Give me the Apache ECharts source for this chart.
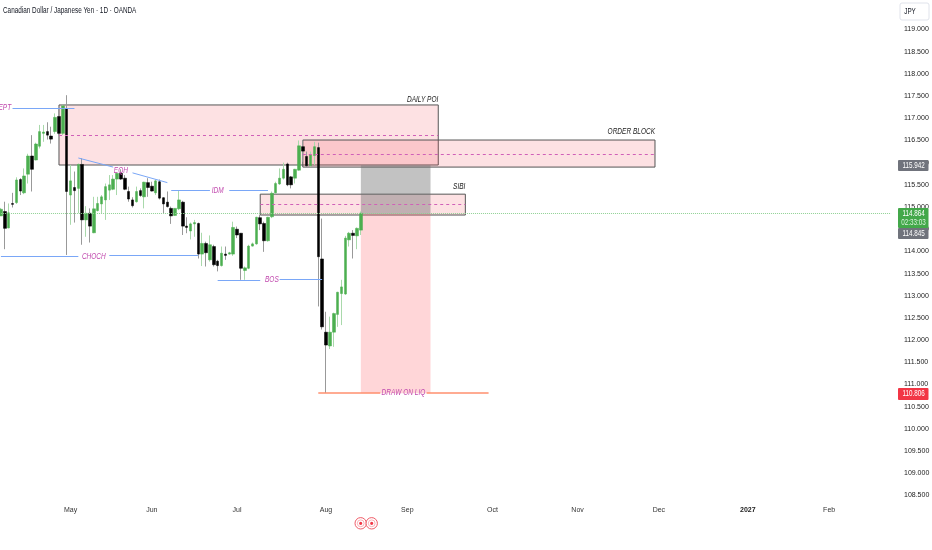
<!DOCTYPE html>
<html>
<head>
<meta charset="utf-8">
<style>html,body{margin:0;padding:0;background:#fff}#c{width:932px;height:550px}</style>
<script src="https://cdn.jsdelivr.net/npm/echarts@6/dist/echarts.min.js"></script>
</head>
<body>
<div id="c"></div>
<script>
const FONT = '"Liberation Sans",sans-serif';
const chartTitle = 'Canadian Dollar / Japanese Yen · 1D · OANDA';
const slotCount = 231;
const monthIndex = [18,39,61,84,105,127,149,170,193,214];
const monthNames = ['May','Jun','Jul','Aug','Sep','Oct','Nov','Dec','2027','Feb'];
const priceTicks = [108.5,109,109.5,110,110.5,111,111.5,112,112.5,113,113.5,114,114.5,115,115.5,116,116.5,117,117.5,118,118.5,119];

const opens = [114.80,114.90,114.53,115.08,115.10,115.62,115.32,115.74,116.15,116.06,116.37,116.66,116.70,116.60,116.70,117.04,116.66,117.22,115.27,115.44,115.42,115.96,114.71,114.86,114.42,114.92,115.07,115.16,115.38,115.40,115.63,115.76,115.65,115.35,115.16,115.12,115.37,115.23,115.55,115.47,115.32,115.57,115.21,115.11,114.97,114.81,114.96,115.11,114.57,114.46,114.62,114.63,113.94,114.18,113.81,114.11,113.78,113.68,113.94,113.94,113.94,114.50,114.41,113.57,113.62,114.12,114.17,114.76,114.63,114.24,114.78,115.32,115.52,115.65,115.97,115.68,115.65,115.83,116.36,116.14,115.93,116.16,116.34,113.83,112.18,111.87,112.18,112.58,113.05,113.04,114.26,114.41,114.35,114.48];
const closes = [114.95,114.52,114.87,115.06,115.61,115.36,115.70,116.15,115.85,116.42,116.70,116.69,116.62,116.53,117.02,116.66,117.28,115.35,115.59,115.37,115.96,114.71,114.86,114.57,114.96,115.08,115.23,115.46,115.50,115.63,115.76,115.63,115.40,115.18,115.03,115.35,115.26,115.56,115.44,115.36,115.59,115.20,115.07,115.01,114.80,114.97,115.16,114.57,114.54,114.62,114.65,113.94,114.18,113.97,114.15,113.70,113.68,113.96,113.91,113.97,114.54,114.37,113.62,113.63,114.12,114.17,114.77,114.62,114.24,114.77,115.31,115.53,115.65,115.85,115.50,115.50,115.85,116.38,116.26,115.93,116.17,116.36,113.88,112.30,111.89,112.18,112.60,113.08,113.20,114.30,114.41,114.36,114.52,114.86];
const lows = [114.80,114.05,114.52,114.99,115.07,115.27,115.29,115.53,115.35,116.05,116.32,116.47,116.52,116.43,116.65,116.62,116.62,113.92,114.60,114.65,114.86,114.15,114.33,114.20,114.41,114.90,114.86,114.71,115.16,115.38,115.27,115.61,115.38,115.12,114.99,115.10,115.23,114.97,115.23,115.35,115.27,115.17,114.86,114.99,114.62,114.80,114.93,114.37,114.41,114.27,114.33,113.84,113.67,113.66,113.77,113.66,113.55,113.66,113.81,113.93,113.90,114.30,113.36,113.36,113.60,114.11,114.15,114.48,113.99,114.22,114.75,115.29,115.50,115.62,115.47,115.42,115.53,115.82,116.02,115.90,115.91,115.95,112.76,112.24,110.81,111.80,111.85,112.30,112.34,113.02,114.11,113.84,114.05,114.37];
const highs = [114.98,115.12,115.08,115.32,115.67,115.65,115.87,116.20,116.62,116.45,116.85,116.85,116.91,116.81,117.11,117.22,117.30,117.52,115.95,115.80,115.98,116.10,115.02,114.97,115.23,115.23,115.27,115.53,115.72,115.72,115.77,115.85,115.72,115.46,115.22,115.46,115.42,115.57,115.65,115.57,115.62,115.62,115.22,115.35,115.01,114.97,115.37,115.14,114.77,114.65,114.71,114.65,114.42,114.22,114.36,114.15,113.81,114.11,114.11,113.99,114.67,114.56,114.41,113.66,114.15,114.20,114.78,114.82,114.67,114.78,115.35,115.57,115.87,116.00,116.00,115.70,115.86,116.50,116.51,116.25,116.25,116.47,116.45,114.74,112.64,112.53,112.62,113.09,113.36,114.35,114.44,114.48,114.54,114.90];

const zoneStart = [15,78,67,93,93];
const zoneEnd   = [113,169,120,111,111];
const zoneTop   = [117.30,116.51,115.29,115.942,114.845];
const zoneBot   = [115.947,115.90,114.82,114.845,110.806];
const zoneFill  = ['rgba(242,54,69,.15)','rgba(242,54,69,.15)','rgba(242,54,69,.15)','rgba(110,110,110,.42)','rgba(255,82,92,.24)'];
const zoneEdge  = ['#555','#555','#555','transparent','transparent'];

const lineX1 = [15,78,67, 3,20,34,44,59,56,72,0,28,82,110];
const lineP1 = [116.61,116.2,115.06, 117.224,116.105,115.77,115.377,115.377,113.34,113.37,113.88,113.92,110.815,110.815];
const lineX2 = [113,169,120, 19,29,43,54,69,67,83,20,51,98,126];
const lineP2 = [116.61,116.2,115.06, 117.224,115.90,115.55,115.377,115.377,113.34,113.37,113.88,113.92,110.815,110.815];
const lineKind = ['mid','mid','mid','blue','blue','blue','blue','blue','blue','blue','blue','blue','orange','orange'];

const noteText  = ['EPT','CHOCH','EQH','IDM','BOS','DRAW ON LIQ','DAILY POI','ORDER BLOCK','SIBI'];
const noteX     = [1,24,31,56,70,104,113,169,120];
const notePrice = [117.25,113.89,115.83,115.377,113.355,110.815,117.43,116.69,115.47];
const noteInk   = ['#c149ae','#c149ae','#c149ae','#c149ae','#c149ae','#c149ae','#222','#222','#222'];
const noteAlign = ['center','center','center','center','center','center','right','right','right'];

const lastPrice = 114.864;

const GREEN = '#4caf50', BLACK = '#000000';
const PINK = '#d060b8', BLUE = '#7aa7f7', ORANGE = '#ff8f6e';
const kindStyle = {
  mid: {color: PINK, type: [3,3], width: 1},
  blue: {color: BLUE, type: 'solid', width: 1},
  orange: {color: ORANGE, type: 'solid', width: 1.5}
};

const categories = Array.from({length: slotCount}, (_, i) => String(i));
const wickData = opens.map((o, i) => [o, closes[i], lows[i], highs[i]]);
const bodyData = opens.map((o, i) => [o, closes[i], Math.min(o, closes[i]), Math.max(o, closes[i])]);

const areas = zoneStart.map((s, i) => [
  {coord: [s, zoneTop[i]], itemStyle: {color: zoneFill[i], borderColor: zoneEdge[i], borderWidth: zoneEdge[i] === 'transparent' ? 0 : 1}},
  {coord: [zoneEnd[i], zoneBot[i]]}
]);
const segs = lineX1.map((x, i) => [
  {coord: [x, lineP1[i]], lineStyle: kindStyle[lineKind[i]]},
  {coord: [lineX2[i], lineP2[i]], lineStyle: kindStyle[lineKind[i]]}
]);
const dotStyle = {color: '#8fd193', type: [1,1], width: 1};
segs.unshift([
  {coord: [0, lastPrice], lineStyle: dotStyle},
  {coord: [slotCount - 1, lastPrice], lineStyle: dotStyle}
]);

const NARROW = 0.75;
const tag = (y, h, fill, lines) => [
  {type: 'rect', shape: {x: 898, y, width: 30.5, height: h, r: 1}, style: {fill}, z: 50},
  ...lines.map(l => ({type: 'text', x: 913.6, y: l.y, scaleX: NARROW, style: {text: l.t, fill: l.c || '#fff', font: '8.4px ' + FONT, align: 'center', verticalAlign: 'middle'}, z: 51}))
];
const graphics = [
  {type: 'text', x: 3, y: 11, scaleX: NARROW, style: {text: chartTitle, fill: '#131722', font: '8.5px ' + FONT, align: 'left', verticalAlign: 'middle'}, z: 51},
  {type: 'rect', shape: {x: 900, y: 3, width: 29, height: 17, r: 2}, style: {fill: '#fff', stroke: '#e0e3eb', lineWidth: 1}, z: 50},
  {type: 'text', x: 910, y: 11.5, scaleX: NARROW, style: {text: 'JPY', fill: '#131722', font: '8.4px ' + FONT, align: 'center', verticalAlign: 'middle'}, z: 51},
  ...tag(160, 11, '#70737c', [{t: '115.942', y: 165.5}]),
  ...tag(208, 20, '#43a84a', [{t: '114.864', y: 213.5}, {t: '02:33:03', y: 222.5, c: '#d8f2da'}]),
  ...tag(228, 11, '#70737c', [{t: '114.845', y: 233.5}]),
  ...tag(388, 12, '#f23645', [{t: '110.806', y: 394}]),
  ...[360.7, 371.7].flatMap(cx => [
    {type: 'circle', shape: {cx, cy: 523.3, r: 5.7}, style: {fill: 'rgba(255,255,255,.75)', stroke: '#f05a66', lineWidth: 1}, z: 50},
    {type: 'circle', shape: {cx, cy: 523.3, r: 3.4}, style: {fill: 'none', stroke: '#f7a0a6', lineWidth: 0.8}, z: 51},
    {type: 'circle', shape: {cx, cy: 523.3, r: 1.6}, style: {fill: '#f23645'}, z: 51}
  ])
];

const chart = echarts.init(document.getElementById('c'), null, {renderer: 'canvas'});
chart.setOption({
  animation: false,
  backgroundColor: '#fff',
  grid: {left: -1, width: 894, top: 0, height: 505, containLabel: false, outerBoundsMode: 'none'},
  xAxis: {
    type: 'category', data: categories, boundaryGap: true,
    axisLine: {show: false}, axisTick: {show: false}, splitLine: {show: false},
    axisLabel: {
      interval: (i) => monthIndex.includes(i), hideOverlap: false, margin: 2,
      fontFamily: FONT, fontSize: 7, color: '#333',
      formatter: (v, i) => {
        const k = monthIndex.indexOf(i);
        if (k < 0) return '';
        return monthNames[k] === '2027' ? '{b|2027}' : monthNames[k];
      },
      rich: {b: {fontFamily: FONT, fontSize: 7, fontWeight: 'bold', color: '#222'}}
    }
  },
  yAxis: {
    type: 'value', position: 'right', min: 108.286, max: 119.665, scale: true,
    axisLine: {show: false}, axisTick: {show: false}, splitLine: {show: false},
    axisLabel: {customValues: priceTicks, margin: 11, fontFamily: FONT, fontSize: 7, color: '#222', formatter: (v) => v.toFixed(3)}
  },
  series: [
    {
      name: 'wicks', type: 'candlestick', data: wickData, barWidth: 0.5, silent: true,
      itemStyle: {color: '#a9d9ab', color0: '#999999', borderColor: '#a9d9ab', borderColor0: '#999999', borderWidth: 1},
      markArea: {silent: true, data: areas, label: {show: false}}
    },
    {
      name: 'bodies', type: 'candlestick', data: bodyData, barWidth: 3, silent: true,
      itemStyle: {color: GREEN, color0: BLACK, borderColor: GREEN, borderColor0: BLACK, borderWidth: 0.5},
      markLine: {silent: true, symbol: 'none', label: {show: false}, data: segs}
    },
    {
      name: 'notes', type: 'custom', silent: true, z: 10, clip: false,
      data: noteText.map((t, i) => [noteX[i], notePrice[i]]),
      encode: {x: 0, y: 1},
      renderItem: (params, api) => {
        const i = params.dataIndex;
        const p = api.coord([api.value(0), api.value(1)]);
        return {
          type: 'text', x: p[0], y: p[1], scaleX: 0.74,
          style: {text: noteText[i], fill: noteInk[i], font: 'italic 8.8px ' + FONT, align: noteAlign[i], verticalAlign: 'middle', backgroundColor: 'transparent'}
        };
      }
    }
  ],
  graphic: graphics
});
</script>
</body>
</html>
